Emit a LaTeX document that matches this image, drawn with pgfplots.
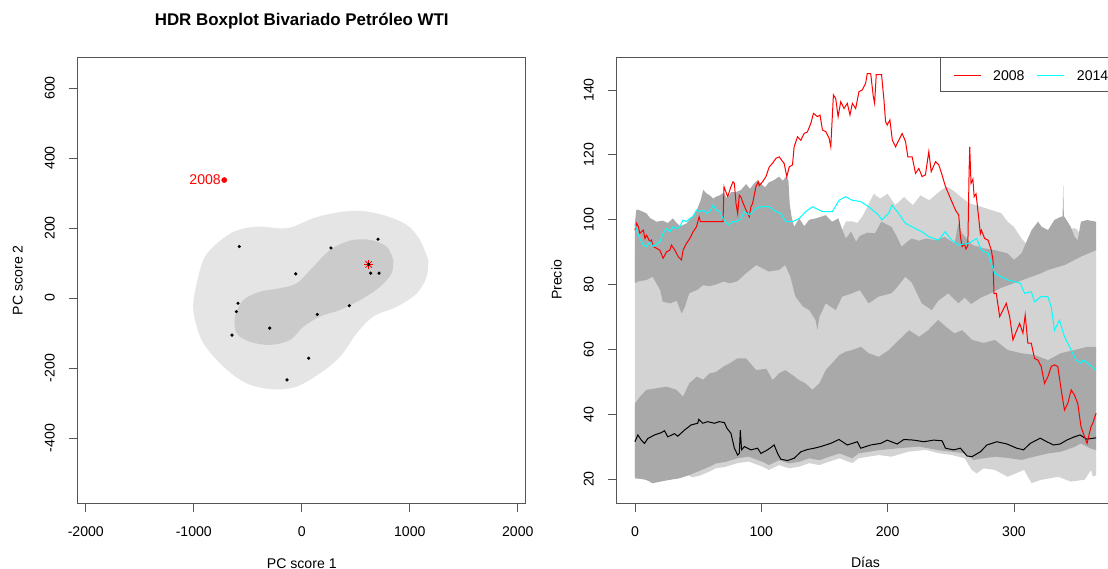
\documentclass[border=0pt]{standalone}
\usepackage{fontspec}
\setmainfont{Liberation Sans}
\usepackage{pgfplots}
\pgfplotsset{compat=1.18}
\definecolor{lgr}{HTML}{D3D3D3}
\definecolor{dgr}{HTML}{A9A9A9}
\definecolor{outerc}{HTML}{E5E5E5}
\definecolor{innerc}{HTML}{CBCBCB}
\definecolor{axcol}{HTML}{555555}
\definecolor{rred}{HTML}{FF0000}
\definecolor{rcyan}{HTML}{00FFFF}
\pgfplotsset{
  rstyle/.style={
    scale only axis,
    axis line style={axcol, line width=0.9pt},
    every tick/.style={axcol, line width=0.9pt},
    major tick length=9pt,
    tick align=outside,
    tick pos=left,
    ticklabel style={font=\fontsize{14.1}{17}\selectfont, text=black},
    xticklabel style={anchor=base, yshift=-24pt},
    yticklabel style={rotate=90, anchor=base, yshift=14pt},
    label style={font=\fontsize{14.1}{17}\selectfont},
    xlabel style={at={(axis description cs:0.5,0)}, anchor=base, yshift=-64.7pt},
    ylabel style={at={(axis description cs:0,0.5)}, anchor=base, yshift=55pt},
  },
}
\begin{document}
\begin{tikzpicture}[font=\fontsize{14.1}{17}\selectfont]
% ---------------- left panel ----------------
\begin{axis}[rstyle,
  at={(77.7pt,-503.3pt)}, anchor=south west,
  width=448.1pt, height=446.3pt,
  xmin=-2075, xmax=2074, ymin=-586.6, ymax=688.6,
  xtick={-2000,-1000,0,1000,2000},
  xticklabels={-2000,-1000,0,1000,2000},
  ytick={-400,-200,0,200,400,600},
  yticklabels={-400,-200,0,200,400,600},
  xlabel={PC score 1}, ylabel={PC score 2},
  title={HDR Boxplot Bivariado Petróleo WTI},
  title style={at={(axis description cs:0.5,1)}, anchor=base, yshift=26pt,
    font=\fontsize{16.9}{20}\selectfont\bfseries},
]
\addplot[fill=outerc, draw=none, smooth, tension=0.55] coordinates {
(1171,109)(1156,61)(1064,13)(879,-25)(662,-53)(508,-101)(354,-168)(169,-215)
(-47,-253)(-264,-261)(-510,-244)(-727,-196)(-912,-129)(-989,-63)(-1005,-15)
(-973,42)(-912,109)(-819,147)(-634,189)(-418,204)(-202,199)(-79,204)(106,228)
(323,244)(539,249)(755,237)(971,209)(1094,166)(1171,109)};
\addplot[fill=innerc, draw=none, smooth, tension=0.55] coordinates {
(847,109)(832,71)(724,32)(539,-6)(354,-34)(169,-53)(14,-82)(-109,-120)
(-294,-134)(-480,-125)(-603,-101)(-619,-53)(-542,-6)(-387,18)(-202,28)
(-47,42)(106,89)(261,137)(446,164)(631,166)(786,147)(847,109)};
\addplot[only marks, mark=+, mark size=4.5pt, rred, line width=0.8pt] coordinates {(619,96)};
\addplot[only marks, mark=x, mark size=4.5pt, rred, line width=0.8pt] coordinates {(619,96)};
\addplot[only marks, mark=*, mark size=1.4pt, black] coordinates {
(-579,147)(270,143)(706,168)(-56,69)(619,96)(638,71)(715,71)(-591,-15)
(-606,-39)(440,-22)(144,-47)(-297,-86)(-646,-106)(64,-172)(-137,-234)};
\addplot[only marks, mark=*, mark size=2.6pt, rred] coordinates {(-718,337)};
\node[rred, anchor=east, inner sep=0pt] at (axis cs:-748,337) {2008};
\end{axis}
% ---------------- right panel ----------------
\begin{axis}[rstyle,
  at={(616.5pt,-503pt)}, anchor=south west,
  width=498pt, height=446pt,
  xmin=-14.6, xmax=379.6, ymin=12.6, ymax=150.2,
  xtick={0,100,200,300}, xticklabels={0,100,200,300},
  ytick={20,40,60,80,100,120,140}, yticklabels={20,40,60,80,100,120,140},
  xlabel={Días}, ylabel={Precio},
]
% light gray outer region
\addplot[fill=lgr, draw=none] coordinates {
(0,90)(160,90)(163,96)(167,99.5)(172,99.5)(176,99)(180,101)(184,104)(189,108)
(194,106.5)(200,108)(206,104.5)(213,107)(220,104.5)(226,107.5)(233,106)(242,109)
(247,110.2)(252,109)(258,107)(265,105)(274,104)(282,103)(290,102)(295,99.4)
(300,97.8)(306,94.2)(311,92)(340,92)(344,96)(347,97.5)(350,97)(353,95)(356,92)(365,92)
(365,21.2)(362.5,20.7)(361,22.8)(356,19.8)(345,19.2)(335,20.7)(321,19.7)(314,18.7)
(308,22.8)(295,20.7)(285,22.8)(276,23.3)(270.5,21.7)(266.6,22.8)(261,26.4)(251,27.4)
(240,28)(230,29)(216,28.4)(203,26.9)(193,27.4)(177,26.4)(172,24.9)(162,26.4)(154,25.4)
(146,24.3)(138,24.9)(130,23.8)(122,23.3)(114,24.3)(106,22.8)(101,23.8)(90,25.4)
(81,24.9)(72,23.8)(64,23.3)(59,22.3)(51,21)(45,20.5)(40,22)(0,21)} -- cycle;
% dark gray upper band
\addplot[fill=dgr, draw=none] coordinates {
(0,99)(1,103)(3,103)(6,102.5)(9,102)(12,100.5)(17,99.4)(22,99.7)(26,99)(30,100.4)
(33,99)(36,98)(41,98.9)(44,100.5)(46,101.4)(49,103)(52,106)(54,109.2)(57,108)
(59,107.6)(62,106.5)(64,107.1)(67,107.5)(70,108.3)(73,106.5)(76,108.5)(80,108.5)
(84,109.2)(88,111)(91,109.5)(94,111)(97,112.2)(100,111)(103,110)(106,111.5)
(110,112.2)(114,113.3)(117,112)(120,113.5)(121.5,112)(122.5,105)(124,100.9)
(126,97.8)(130,100.4)(134,98)(138,100)(143,100.4)(148,101)(151,101.4)(156,99.4)
(161,100.4)(164,97)(167,94.2)(171,96.3)(175,93.2)(178,95)(184,96)(190,95.8)
(195,99.4)(203,97.8)(207,95)(211,91.7)(215,93)(219,94.2)(225,93.5)(230,94.2)
(238,93.7)(245,94.7)(250,93.5)(253,92.7)(256,98.9)(259,95.8)(263,94)(267,92.2)
(272,91.7)(276,91.2)(285,90.6)(295,89.6)(300,87.6)(306,89.6)(311,94.2)(314,96.8)
(319,99.4)(322,97.8)(327,96.8)(332,99.9)(337,100.9)(338.5,101)(339,110.7)
(339.5,101)(340,100.9)(345,97.8)(348,94.7)(350.5,93.7)(353,99.4)(358,99.9)(365,99.4)
(365,90.6)(353,88.6)(340,86)(327,84.5)(321,83.4)(311,82)(300,80.4)(290,79)(280,77)
(274,76)(266,74)(261,76)(256,74.2)(248,77.3)(240,75)(235,72.1)(227,74.2)(219,80.7)
(214,82.4)(206,78.5)(203,77.3)(193,76.3)(185,74.2)(178,78.3)(172,77.3)(164,76.3)
(159,72.1)(151,74.2)(146,70)(144.4,66)(143,69)(138,72.1)(133,73.2)(127,76.3)
(123,82.4)(119,86)(114,84.5)(106,84)(101,85)(96,86)(88,83.5)(81,81)(75,80.4)
(70,80.9)(64,80)(59,79.5)(54,79.8)(49,78.3)(43,77.3)(39.4,73)(37,71.1)(33,75)
(28,74.2)(22,74.7)(20,78.3)(14,82.4)(9,81.4)(3,81)(0,80.5)} -- cycle;
% dark gray lower band
\addplot[fill=dgr, draw=none] coordinates {
(0,43.3)(4,45.4)(9,47.5)(17,48)(25,48.5)(33,47.5)(38,45.4)(43,49.5)(49,51.6)
(54,50.6)(59,52.6)(64,53)(70,54.7)(75,55.7)(81,57.2)(88,57.2)(96,53.6)(104,54)
(109,50.5)(114,52.6)(119,53.6)(125,52)(130,50.5)(135,49.5)(140.5,47.5)(146,49.5)
(151,53.6)(156,55.7)(162,58.3)(167,59.3)(172,59.8)(179,60.8)(185,58.8)(193,57.7)
(201,59.8)(209,62.9)(217,65.9)(225,63.9)(232,65.9)(240,69.1)(246,67)(253,64.9)
(259,65.9)(267,62.9)(276,62)(285,62.9)(295,59.8)(306,58.8)(316,58.3)(327,56.7)
(337,58.8)(348,59.8)(358,60.8)(365,60.8)
(365,28.9)(360,29.5)(353,31)(348,29.9)(337,28.4)(327,27.9)(316,26.9)(306,25.9)
(295,26.5)(285,26.9)(276,26.4)(268,25.9)(261,27.9)(251,28.4)(240,28.9)(225,30)
(209,29.5)(193,28.9)(177,27.9)(172,26.4)(162,27.9)(154,26.9)(146,25.8)(138,26.4)
(130,25.3)(122,24.8)(114,25.8)(106,24.3)(101,25.3)(90,26.9)(81,26.4)(72,25.3)
(64,24.8)(59,23.8)(51,22.5)(43,21.2)(35,20.2)(27,19.7)(20,19.2)(14,18.7)(9,19.7)
(5,20)(0,20.2)} -- cycle;
% black line
\addplot[black, line width=1pt] coordinates {
(0,31.5)(2.3,33.6)(5,32)(7.6,31)(10.2,32.5)(15.5,33.6)(20.8,34.3)(23.4,34.9)(26,33)
(31.3,34)(33.9,33.2)(39.2,35.1)(44.5,36.7)(49.7,37.2)(50.5,38.4)(53.7,37.2)(57.6,37.7)
(62.9,37.2)(66.8,37.7)(70.8,37.4)(72.9,35.6)(76,34.1)(78.7,29.5)(81.3,27.4)(82.6,27.9)
(83.4,35.1)(84.4,29)(86.6,30)(91.8,29)(97.1,29.5)(99.7,27.9)(105,29)(110.2,30.5)
(112.9,27.9)(115.5,26.1)(120.8,25.7)(126,26.4)(131.3,28.4)(136.5,29.1)(141.8,29.5)
(147,30)(155,31)(161.5,32.2)(168.1,30.5)(176,31.5)(178.7,29.5)(186.6,30.5)(194.5,31)
(199.7,32)(207.6,30.8)(212.9,32.2)(220.8,32)(228.6,31.5)(236.5,32)(243.1,31.8)
(245.8,29.5)(252.3,29)(257.6,29.5)(262.9,27.1)(266.8,26.9)(273.4,28.4)(278.6,30.5)
(286.5,31.5)(294.5,30.8)(302.3,29.5)(307.6,29)(312.9,31)(320.8,32.6)(326,31.5)
(331.3,30.5)(336.5,30.8)(341.8,32)(347.1,32.9)(352.3,33.6)(357.6,32.3)(365,32.7)};
% 2008
\addplot[rred, line width=1pt] coordinates {
(0,96.8)(1.3,98.9)(2.6,97.9)(3.9,95.8)(6.6,96.8)(7.9,94.2)(9.2,95.2)(11.8,93.2)
(13.1,93.7)(14.4,91.7)(17,91.2)(19.7,90.6)(22.3,88.1)(25,90.1)(27.6,90.6)(28.9,92.2)
(31.6,90.6)(34.2,88.6)(36.8,87.6)(38.1,90.6)(40.8,92.7)(43.4,94.2)(46,96.3)(48.7,97.8)
(50.8,100.9)(51.8,99.4)(69.7,99.4)(70.5,110.2)(73.4,107.1)(76,110.2)(77.6,111.7)
(78.7,111.2)(80,105)(81.3,101.9)(82.6,107.6)(83.9,107)(85.2,105.5)(87.9,103)
(90.5,100.9)(91.8,104)(93.1,105)(95.8,110.2)(97.6,111.7)(98.4,110.5)(101,111.7)
(103.7,113.3)(106.3,116.3)(108.9,117.4)(111.5,118.9)(114.2,119.4)(116.8,118)
(118.1,117.4)(120.2,113.3)(122.1,116.3)(124.7,116.9)(126,122.5)(128.7,125.6)
(131.3,124.5)(133.9,126.6)(136.5,127.1)(139.2,129.7)(141.3,132.8)(144.4,131.8)
(146.5,132.3)(148.4,127.7)(151,127.2)(153.7,125.1)(155,122.5)(157.1,138.5)
(158.9,137.4)(160.8,131.8)(162.9,136.4)(165.5,134.3)(168.1,135.9)(170.2,132.3)
(172.1,135.9)(174.7,134.3)(177.3,139.5)(179.9,140)(182.6,142.1)(183.9,145.1)
(186.6,145.1)(188.7,137.9)(189.7,135.9)(191,144.8)(195.2,144.8)(197.1,136.9)
(198.4,130.2)(199.7,129.2)(201.8,130.8)(203.7,124.6)(206.3,122.5)(208.9,124.6)
(211.5,126.6)(214.2,124.1)(216,119.4)(219.4,119.4)(222.1,114.3)(224.7,115.8)
(227.3,113.3)(229.9,113.8)(232.6,121)(234.5,114.8)(237.9,117.9)(240.5,116.9)
(243.1,113.8)(245.8,110.2)(249.7,106.6)(253.7,103)(256.3,101.4)(257.6,94.8)
(259,91.7)(260.8,92.5)(262,91)(263.5,92)(264.5,115)(265,122.5)(266,111.2)
(267.5,112.5)(268.5,107.1)(270,108)(272,100.9)(273.4,95.7)(274.2,96.8)(276.8,94.2)
(279.5,93.7)(282.1,90.6)(283.4,87.6)(284.2,77.3)(286,77.3)(288.7,70.1)(291.3,72.1)
(293.9,74.2)(296.6,70.1)(299.2,62.9)(301.8,65.5)(304.5,68)(307.1,65)(308.9,70.6)
(311,61.9)(313.7,61.9)(316.3,57.2)(318.9,56.7)(321.6,54.7)(324.2,49.5)(326.8,51.5)
(329.5,54.7)(332.1,55.2)(334.7,54.7)(337.4,47.5)(340,41.3)(342.6,43.3)(345.3,47.5)
(347.9,45.9)(350.5,43.3)(353.1,36.1)(355.8,33.1)(357.9,31)(359,33)(361,36.1)
(362.4,37.2)(365,40.3)};
% 2014
\addplot[rcyan, line width=1pt] coordinates {
(0,98.4)(1.3,96.8)(3.9,94.2)(6.6,92.2)(9.2,91.7)(11.8,93.2)(14.4,91.7)(19.7,93.2)
(22.3,95.8)(25,97.3)(27.6,96.3)(30.2,97.8)(32.9,97.3)(35.5,97.8)(38.1,99.9)(40.8,99.4)
(43.4,100.4)(46,100.9)(48.7,103)(51.3,102.5)(54,103)(56.6,102)(59.2,102.5)(61.8,104.5)
(64.4,103)(67,102.5)(69.7,100.4)(73.7,98.4)(77.6,99.4)(80,99.4)(84,100.2)(86.5,102.5)
(90.5,101.5)(95.8,103.5)(100,104)(106.3,104)(111.5,102.5)(115.5,101.9)(119.4,99.4)
(124.7,99.4)(130,100.4)(135.2,102.5)(140.5,104)(148.4,102.5)(156.3,102.5)(161.6,106)
(166.8,107.1)(172,106)(178.7,105.6)(185,104)(192.9,101.4)(195.5,99.9)(200.8,102)
(203.4,104.5)(208.7,102)(214,98.9)(221.8,97.3)(227.1,96.3)(232.4,94.8)(240.3,93.7)
(245.5,96.3)(250.8,93.7)(256,92.2)(264,92.7)(270.5,94.2)(274.2,90.6)(279.5,89.6)
(284.7,83.5)(290,82.4)(295.3,81.4)(300.5,80.9)(305,80.4)(308.4,77.3)(313.7,77.8)
(316.3,74.7)(321.6,76.3)(326.8,76.3)(329.5,73.2)(332.1,65.9)(336,69)(340,63.9)
(345.3,59.8)(349.2,56.7)(353.1,55.7)(355,56.7)(358.4,55.7)(365,53.6)};
% legend frame, samples and labels
\draw[axcol, line width=0.9pt] (rel axis cs:0.651,1) rectangle (rel axis cs:1.1,0.9238);
\addplot[rred, line width=1.1pt] coordinates {(252.3,144.6)(273.6,144.6)};
\addplot[rcyan, line width=1.1pt] coordinates {(318.2,144.6)(339.5,144.6)};
\node[anchor=base west, inner sep=0pt, text=black] at (rel axis cs:0.7560,0.9484) {2008};
\node[anchor=base west, inner sep=0pt, text=black] at (rel axis cs:0.9241,0.9484) {2014};
\end{axis}
\pgfresetboundingbox
\path[use as bounding box] (0pt,0pt) rectangle (1108pt,-569pt);
\end{tikzpicture}
\end{document}
